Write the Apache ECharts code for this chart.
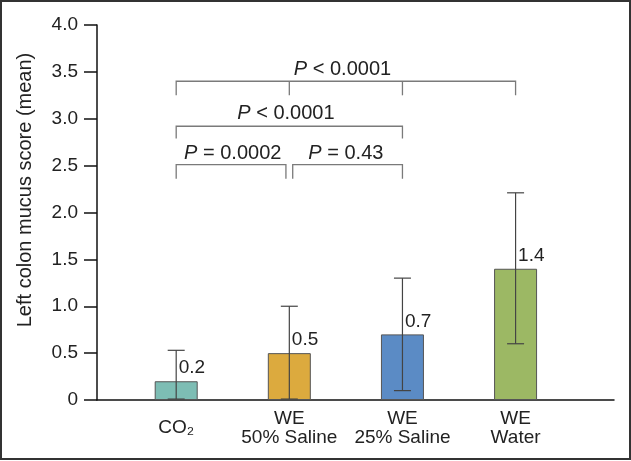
<!DOCTYPE html>
<html>
<head>
<meta charset="utf-8">
<script src="https://cdn.jsdelivr.net/npm/echarts@6/dist/echarts.min.js"></script>
<style>html,body{margin:0;padding:0;background:#fff}#c{width:631px;height:461px}</style>
</head>
<body>
<div id="c"></div>
<script>
// ---- data ----
const categories = ['CO₂', 'WE\n50% Saline', 'WE\n25% Saline', 'WE\nWater'];
const positions = [1, 2, 3, 4];
const means = [0.2, 0.5, 0.7, 1.4];
const errLow = [0.01, 0.01, 0.10, 0.60];
const errHigh = [0.53, 1.00, 1.30, 2.21];
const barColors = ['#7dbdb4', '#dcaa3e', '#5b8bc5', '#9cb864'];
// brackets: [xStart, xEnd, yLine, yDropEnd]
const brackets = [
  [1, 4, 3.40, 3.25],
  [1, 3, 2.92, 2.79],
  [1, 1.97, 2.51, 2.36],
  [2.03, 3, 2.51, 2.36]
];
// extra inner drops of the top bracket: [x, yLine, yDropEnd]
const bracketDrops = [[2, 3.40, 3.25], [3, 3.40, 3.25]];
// p-value labels: [x, y, comparator text]
const pLabels = [
  [2.47, 3.53, '< 0.0001'],
  [1.97, 3.06, '< 0.0001'],
  [1.50, 2.63, '= 0.0002'],
  [2.50, 2.63, '= 0.43']
];

const FONT = '"Liberation Sans", Arial, sans-serif';
const chart = echarts.init(document.getElementById('c'));

chart.setOption({
  animation: false,
  backgroundColor: '#fff',
  grid: { left: 97, right: 17, top: 25, bottom: 61 },
  xAxis: {
    type: 'value', min: 0.3, max: 4.87,
    axisLine: { show: true, lineStyle: { color: '#111', width: 1.5 } },
    axisTick: { show: false },
    splitLine: { show: false },
    axisLabel: {
      customValues: positions,
      formatter: v => categories[positions.indexOf(Math.round(v))] || '',
      fontFamily: FONT, fontSize: 19, color: '#222', lineHeight: 19,
      verticalAlign: 'middle', margin: 28
    }
  },
  yAxis: {
    type: 'value', min: 0, max: 4, interval: 0.5,
    axisLine: { show: true, lineStyle: { color: '#111', width: 1.5 } },
    axisTick: { show: true, length: 13, lineStyle: { color: '#111', width: 1.5 } },
    splitLine: { show: false },
    axisLabel: {
      formatter: v => v === 0 ? '0' : v.toFixed(1),
      fontFamily: FONT, fontSize: 19, color: '#222', margin: 19
    }
  },
  graphic: [
    { type: 'rect', shape: { x: 1, y: 1, width: 629, height: 458 }, style: { fill: 'none', stroke: '#333', lineWidth: 2 }, silent: true },
    { type: 'text', x: 25, y: 190, rotation: Math.PI / 2,
      style: { text: 'Left colon mucus score (mean)', font: '20px ' + FONT, fill: '#222', align: 'center', verticalAlign: 'middle' } }
  ],
  series: [
    {
      type: 'bar', barWidth: 43,
      data: positions.map((p, i) => ({ value: [p, means[i]], itemStyle: { color: barColors[i] } })),
      itemStyle: { borderColor: '#555', borderWidth: 1 },
      label: {
        show: true, position: [24, -13], align: 'left', verticalAlign: 'middle',
        formatter: p => p.value[1].toFixed(1), fontFamily: FONT, fontSize: 19, color: '#222'
      },
      z: 2
    },
    {
      type: 'custom', z: 3,
      data: positions.map((p, i) => [p, errLow[i], errHigh[i]]),
      renderItem: (params, api) => {
        const x = api.value(0);
        const lo = api.coord([x, api.value(1)]);
        const hi = api.coord([x, api.value(2)]);
        const w = 8.5;
        const st = { stroke: '#444', lineWidth: 1.2 };
        return { type: 'group', children: [
          { type: 'line', shape: { x1: lo[0], y1: lo[1], x2: hi[0], y2: hi[1] }, style: st },
          { type: 'line', shape: { x1: hi[0] - w, y1: hi[1], x2: hi[0] + w, y2: hi[1] }, style: st },
          { type: 'line', shape: { x1: lo[0] - w, y1: lo[1], x2: lo[0] + w, y2: lo[1] }, style: st }
        ] };
      }
    },
    {
      type: 'custom', z: 3,
      data: brackets,
      renderItem: (params, api) => {
        const a = api.coord([api.value(0), api.value(2)]);
        const b = api.coord([api.value(1), api.value(2)]);
        const d = api.coord([api.value(0), api.value(3)]);
        const st = { stroke: '#7a7a7a', lineWidth: 1.3, fill: 'none' };
        return { type: 'polyline', shape: { points: [[a[0], d[1]], a, b, [b[0], d[1]]] }, style: st };
      }
    },
    {
      type: 'custom', z: 3,
      data: bracketDrops,
      renderItem: (params, api) => {
        const a = api.coord([api.value(0), api.value(1)]);
        const d = api.coord([api.value(0), api.value(2)]);
        return { type: 'line', shape: { x1: a[0], y1: a[1], x2: d[0], y2: d[1] }, style: { stroke: '#7a7a7a', lineWidth: 1.3 } };
      }
    },
    {
      type: 'custom', z: 4,
      data: pLabels,
      renderItem: (params, api) => {
        const c = api.coord([api.value(0), api.value(1)]);
        return { type: 'text', x: c[0], y: c[1], style: {
          text: '{i|P} ' + pLabels[params.dataIndex][2],
          rich: { i: { fontStyle: 'italic', fontFamily: FONT, fontSize: 20, fill: '#222' } },
          font: '20px ' + FONT, fill: '#222', align: 'center', verticalAlign: 'middle'
        } };
      }
    }
  ]
});
</script>
</body>
</html>
